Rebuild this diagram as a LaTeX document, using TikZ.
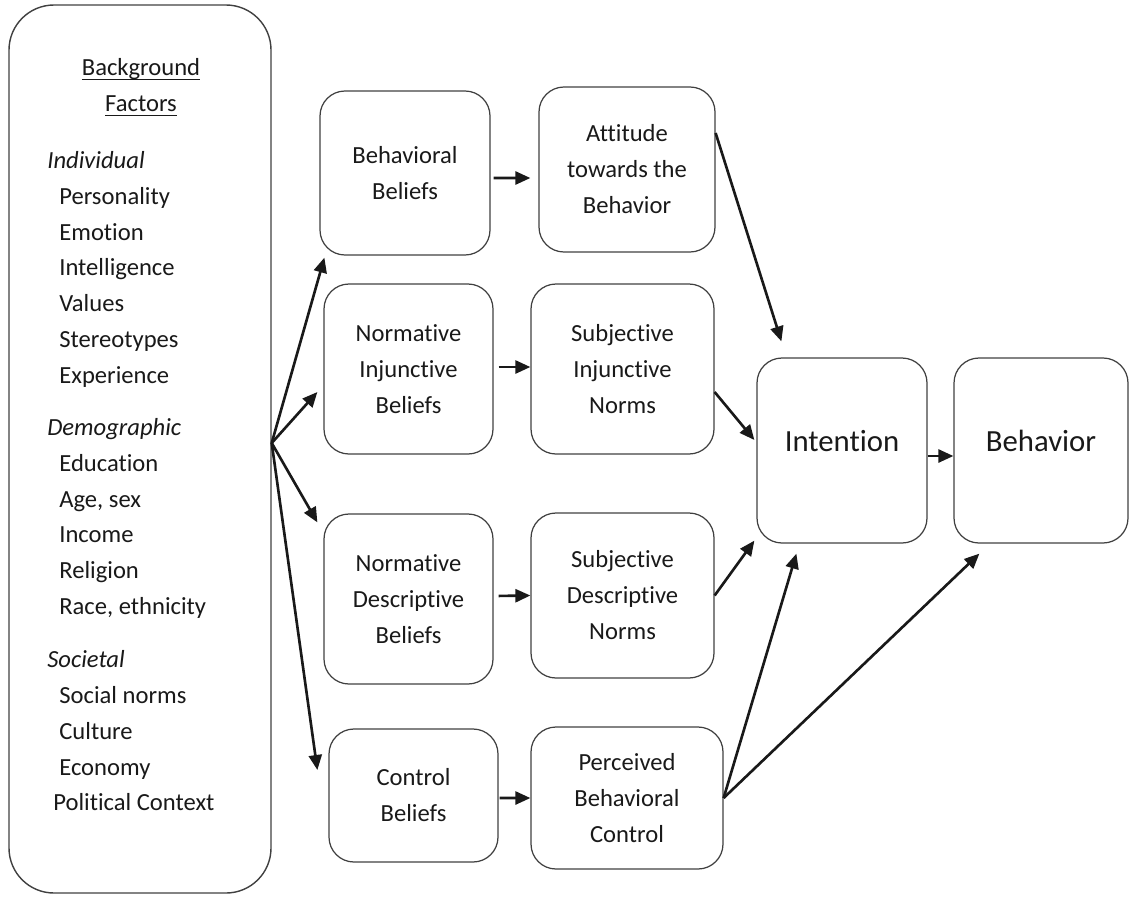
\documentclass[tikz,border=0pt]{standalone}
\usepackage{fontspec}
\setmainfont{Carlito}[Ligatures=NoCommon]
\usetikzlibrary{arrows.meta, positioning, calc}

\newcommand{\undertext}[1]{\setbox0\hbox{#1}\rlap{\rule[-2.8pt]{\wd0}{0.7pt}}\box0}

\begin{document}
\begin{tikzpicture}[
    every node/.style = {align=center, text=black!90},
    factbox/.style   = {draw=black!75, line width=0.8pt, rounded corners=0.9cm,
                        minimum width=5.24cm, minimum height=17.76cm, inner sep=0pt},
    beliefbox/.style = {draw=black!75, line width=0.7pt, rounded corners=0.5cm,
                        inner sep=0pt, font=\fontsize{14}{20.5}\selectfont},
    bigbox/.style    = {draw=black!75, line width=0.7pt, rounded corners=0.5cm,
                        inner sep=0pt, minimum width=3.4cm, minimum height=3.7cm,
                        text depth=0.4cm, font=\fontsize{17.5}{20}\selectfont},
    listtext/.style  = {align=left, anchor=north west, inner sep=0pt,
                        font=\fontsize{14}{20.4}\selectfont},
    arr/.style       = {-{Triangle[length=0.3cm,width=0.26cm]}, line width=1.5pt, draw=black!90},
]
\useasboundingbox (0,0) rectangle (22.58,-17.98);

%% Background factors
\node[factbox] (lbox) at (2.80,-8.98) {};
\node[listtext, anchor=north, align=center] (bgtitle) at (2.82,-1.16)
    {\undertext{Background}\\\undertext{Factors}};
\node[listtext] (bglist) at (0.94,-3.02)
    {\textit{Individual}\\
     \hspace*{0.24cm}Personality\\
     \hspace*{0.24cm}Emotion\\
     \hspace*{0.24cm}Intelligence\\
     \hspace*{0.24cm}Values\\
     \hspace*{0.24cm}Stereotypes\\
     \hspace*{0.24cm}Experience\\[0.32cm]
     \textit{Demographic}\\
     \hspace*{0.24cm}Education\\
     \hspace*{0.24cm}Age, sex\\
     \hspace*{0.24cm}Income\\
     \hspace*{0.24cm}Religion\\
     \hspace*{0.24cm}Race, ethnicity\\[0.34cm]
     \textit{Societal}\\
     \hspace*{0.24cm}Social norms\\
     \hspace*{0.24cm}Culture\\
     \hspace*{0.24cm}Economy\\
     \hspace*{0.12cm}Political Context};
\coordinate (hub) at ([yshift=0.12cm]lbox.east);

%% Beliefs
\node[beliefbox, minimum width=3.40cm, minimum height=3.28cm] (bb)  at (8.10,-3.46)  {Behavioral\\Beliefs};
\node[beliefbox, minimum width=3.38cm, minimum height=3.40cm] (nib) at (8.17,-7.38)  {Normative\\Injunctive\\Beliefs};
\node[beliefbox, minimum width=3.38cm, minimum height=3.40cm] (ndb) at (8.17,-11.98) {Normative\\Descriptive\\Beliefs};
\node[beliefbox, minimum width=3.38cm, minimum height=2.66cm] (cb)  at (8.27,-15.91) {Control\\Beliefs};

%% Attitude, norms, control
\node[beliefbox, minimum width=3.52cm, minimum height=3.30cm] (att) at (12.54,-3.39)  {Attitude\\towards the\\Behavior};
\node[beliefbox, minimum width=3.66cm, minimum height=3.40cm] (sin) at (12.45,-7.38)  {Subjective\\Injunctive\\Norms};
\node[beliefbox, minimum width=3.66cm, minimum height=3.30cm] (sdn) at (12.45,-11.91) {Subjective\\Descriptive\\Norms};
\node[beliefbox, minimum width=3.84cm, minimum height=2.84cm] (pbc) at (12.54,-15.96) {Perceived\\Behavioral\\Control};

%% Intention and behavior
\node[bigbox] (int) at (16.84,-9.01) {Intention};
\node[bigbox, minimum width=3.48cm] (beh) at (20.82,-9.01) {Behavior};

%% Background to beliefs
\draw[arr] (hub) -- ([shift={(0.10,-0.04)}]bb.south west);
\draw[arr] (hub) -- ([shift={(-0.12,-0.46)}]nib.west);
\draw[arr] (hub) -- ([shift={(-0.12,-0.18)}]ndb.north west);
\draw[arr] (hub) -- ([shift={(-0.22,0.51)}]cb.west);

%% Beliefs to attitude and norms
\draw[arr, shorten <=0.06cm, shorten >=0.16cm] ([yshift=-0.10cm]bb.east) -- ([yshift=-0.17cm]att.west);
\draw[arr, shorten <=0.10cm] ([yshift=0.04cm]nib.east) -- ([yshift=0.04cm]sin.west);
\draw[arr, shorten <=0.10cm] ([yshift=0.06cm]ndb.east) -- (sdn.west);
\draw[arr, shorten <=0.02cm] ([yshift=-0.05cm]cb.east) -- (pbc.west);

%% Into intention
\draw[arr] ([yshift=0.73cm]att.east) -- ([shift={(0.50,0.32)}]int.north west);
\draw[arr] ([yshift=-0.46cm]sin.east) -- ([shift={(-0.04,0.21)}]int.west);
\draw[arr] (sdn.east) -- ([shift={(-0.04,0.06)}]int.south west);
\draw[arr] (pbc.east) -- ([shift={(0.80,-0.20)}]int.south west);
\draw[arr] (pbc.east) -- ([shift={(0.52,-0.20)}]beh.south west);
\draw[arr] ([yshift=-0.11cm]int.east) -- ([yshift=-0.11cm]beh.west);

\end{tikzpicture}
\end{document}
